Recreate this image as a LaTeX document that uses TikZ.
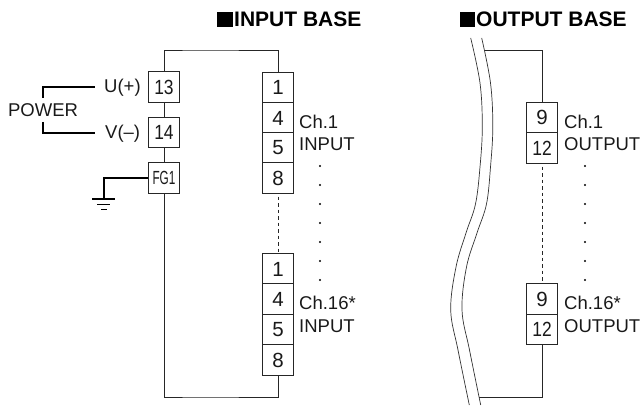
\documentclass[tikz,border=0pt]{standalone}
\usepackage{fontspec}
\setmainfont{Liberation Sans}
\tikzset{
  x=1pt,y=-1pt,
  wire/.style={line width=0.8pt,draw=black!85},
  thinwire/.style={line width=0.7pt,draw=black!80},
  heavy/.style={line width=1.2pt,draw=black},
  dashwire/.style={line width=0.7pt,draw=black!85,dash pattern=on 3.5pt off 3pt},
  term/.style={draw=black!85,line width=0.8pt,fill=white,minimum width=30.3pt,minimum height=30.3pt,inner sep=0pt,font=\fontsize{20.5}{20.5}\selectfont,text=black!90},
  lab/.style={inner sep=0pt,font=\fontsize{18.5}{18.5}\selectfont,text=black!90},
  title/.style={inner sep=0pt,font=\fontsize{21}{21}\selectfont\bfseries,text=black},
  dotmark/.style={circle,fill=black,inner sep=0pt,minimum size=2.2pt}
}
\newcommand{\nar}[1]{\scalebox{0.85}[1]{#1}}
\begin{document}
\begin{tikzpicture}
\useasboundingbox (0,0) rectangle (643,406);
% titles
\fill (217,12) rectangle (233,27);
\node[title,anchor=west] (t1) at (234,19.5) {INPUT BASE};
\fill (460,12) rectangle (475,27);
\node[title,anchor=west] (t2) at (476,19.5) {OUTPUT BASE};
% left terminals
\node[term] (p13) at (164,87) {\nar{13}};
\node[term] (p14) at (164,132.5) {\nar{14}};
\node[term] (fg) at (164,178) {\scalebox{0.62}[1]{\fontsize{19}{19}\selectfont FG1}};
% input channel 1
\node[term] (a1) at (278,87.5) {1};
\node[term] (a4) at (278,118) {4};
\node[term] (a5) at (278,148) {5};
\node[term] (a8) at (278,178) {8};
% input channel 16
\node[term] (b1) at (278,269) {1};
\node[term] (b4) at (278,299) {4};
\node[term] (b5) at (278,329.5) {5};
\node[term] (b8) at (278,360) {8};
% output
\node[term] (c9) at (542,117.5) {9};
\node[term] (c12) at (542,148) {\nar{12}};
\node[term] (d9) at (542,299) {9};
\node[term] (d12) at (542,329.5) {\nar{12}};
% labels
\node[lab,anchor=west] (u) at (104,88) {U(+)};
\node[lab,anchor=west] (v) at (105,133.5) {V(–)};
\node[lab,anchor=center] (pw) at (43,110) {POWER};
\node[lab,anchor=west] (l1) at (299,122) {Ch.1};
\node[lab,anchor=west] (l2) at (299,144.5) {INPUT};
\node[lab,anchor=west] (l3) at (299,303) {Ch.16*};
\node[lab,anchor=west] (l4) at (299,326) {INPUT};
\node[lab,anchor=west] (l5) at (564,122) {Ch.1};
\node[lab,anchor=west] (l6) at (564,144.5) {OUTPUT};
\node[lab,anchor=west] (l7) at (564,303) {Ch.16*};
\node[lab,anchor=west] (l8) at (564,326) {OUTPUT};
% wiring
\coordinate (top) at (200,50);
\coordinate (bot) at (200,397);
\draw[wire] (p13.north) |- (top) -| (a1.north);
\draw[wire] (p13.south) -- (p14.north);
\draw[wire] (p14.south) -- (fg.north);
\draw[wire] (fg.south) |- (bot) -| (b8.south);
\coordinate (a8g) at ([yshift=-3pt]a8.south);
\draw[dashwire] (a8g) -- (b1.north);
\coordinate (c12g) at ([yshift=-3pt]c12.south);
\draw[dashwire] (c12g) -- (d9.north);
% output wires end at the break line
\coordinate (otop) at (485,50);
\coordinate (obot) at (479,397);
\draw[wire] (otop) -| (c9.north);
\draw[wire] (obot) -| (d12.south);
% power brackets
\coordinate (pa) at (43,98);
\coordinate (pb) at (95,87);
\coordinate (pc) at (43,122);
\coordinate (pd) at (95,133);
\draw[heavy] (pa) |- (pb);
\draw[heavy] (pc) |- (pd);
% ground
\coordinate (gnd) at (104,198);
\draw[heavy] (fg.west) -| (gnd);
\draw[heavy] (92,199) -- (115,199);
\draw[heavy] (97,204.5) -- (110,204.5);
\draw[heavy] (101,209.5) -- (107,209.5);
% dots
\foreach \y in {166,185,204,223,242,261,280}{
  \node[dotmark] at (320,\y) {};
  \node[dotmark] at (585,\y) {};
}
% break lines
\draw[thinwire] plot[smooth,tension=0.6] coordinates {(470.7,38) (480,83) (482.3,127) (480,167) (475.5,204) (466,233) (456,267) (450.7,310) (458,350) (469.3,405)};
\draw[thinwire] plot[smooth,tension=0.6] coordinates {(481.7,38) (490.5,83) (492.8,127) (490.5,167) (486.5,204) (477,233) (466.5,267) (462,310) (469.5,350) (480.7,405)};
\end{tikzpicture}
\end{document}
